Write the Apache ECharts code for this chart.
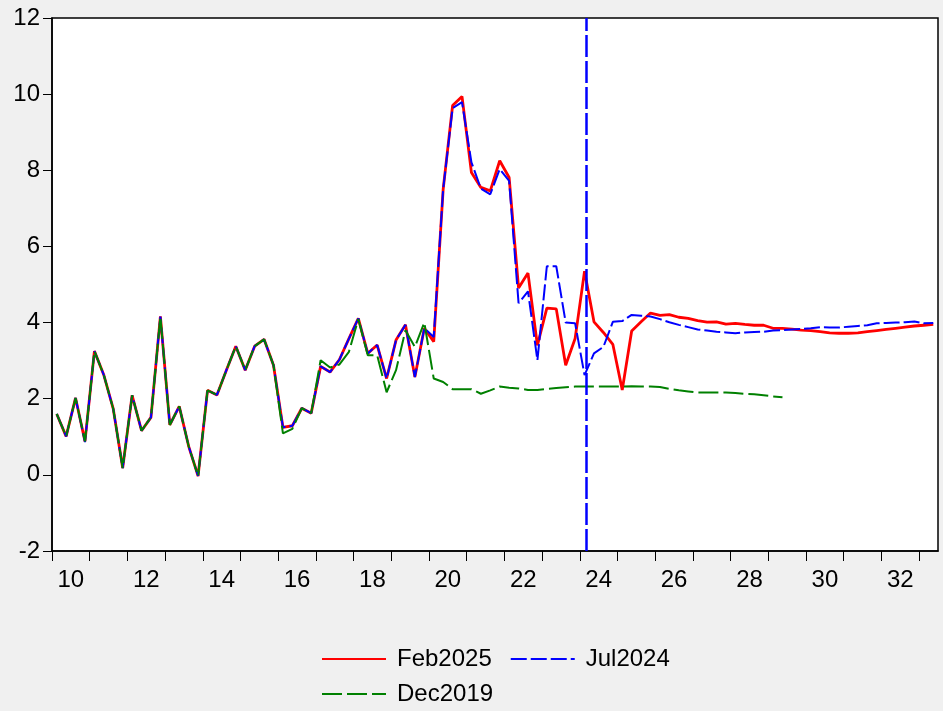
<!DOCTYPE html>
<html>
<head>
<meta charset="utf-8">
<script src="https://cdn.jsdelivr.net/npm/echarts@6/dist/echarts.min.js"></script>
<style>
html,body{margin:0;padding:0;background:#f0f0f0;}
#chart{width:943px;height:711px;}
</style>
</head>
<body>
<div id="chart"></div>
<script>
// Quarterly observations, 2010Q1 .. 2033Q2
const quarters = [];
for (let y = 2010; y <= 2033; y++) for (let q = 1; q <= 4; q++) { if (y === 2033 && q > 2) break; quarters.push(y + 'Q' + q); }

const feb2025 = [
  1.60, 1.01, 2.02, 0.88, 3.25, 2.62, 1.73, 0.18, 2.09, 1.16,
  1.51, 4.16, 1.31, 1.80, 0.75, -0.03, 2.22, 2.10, 2.75, 3.38,
  2.75, 3.38, 3.56, 2.88, 1.25, 1.29, 1.75, 1.62, 2.85, 2.70,
  3.03, 3.58, 4.11, 3.19, 3.41, 2.53, 3.54, 3.94, 2.57, 3.85,
  3.50, 7.50, 9.70, 9.94, 7.94, 7.55, 7.46, 8.25, 7.81, 4.91,
  5.30, 3.40, 4.38, 4.36, 2.88, 3.58, 5.35, 4.02, 3.74, 3.43,
  2.23, 3.78, 4.02, 4.25, 4.19, 4.21, 4.14, 4.11, 4.05, 4.01,
  4.02, 3.96, 3.98, 3.95, 3.93, 3.93, 3.85, 3.85, 3.83, 3.80,
  3.79, 3.76, 3.73, 3.72, 3.72, 3.73, 3.76, 3.79, 3.82, 3.85,
  3.88, 3.91, 3.93, 3.95
];
const jul2024 = [
  1.60, 1.01, 2.02, 0.86, 3.25, 2.62, 1.73, 0.18, 2.09, 1.16,
  1.51, 4.16, 1.31, 1.80, 0.75, -0.03, 2.22, 2.10, 2.75, 3.38,
  2.75, 3.38, 3.56, 2.88, 1.25, 1.29, 1.75, 1.62, 2.85, 2.70,
  3.03, 3.58, 4.11, 3.19, 3.41, 2.53, 3.54, 3.94, 2.57, 3.85,
  3.62, 7.50, 9.63, 9.79, 8.21, 7.52, 7.37, 8.03, 7.72, 4.51,
  4.82, 3.01, 5.48, 5.48, 4.00, 3.98, 2.62, 3.19, 3.36, 4.02,
  4.04, 4.20, 4.18, 4.16, 4.09, 4.01, 3.94, 3.88, 3.82, 3.79,
  3.76, 3.74, 3.72, 3.74, 3.75, 3.76, 3.79, 3.80, 3.82, 3.83,
  3.85, 3.88, 3.87, 3.87, 3.89, 3.91, 3.93, 3.98, 3.99, 4.00,
  4.01, 4.03, 3.98, 3.99
];
const dec2019 = [
  1.60, 1.01, 2.02, 0.88, 3.25, 2.62, 1.73, 0.18, 2.09, 1.16,
  1.51, 4.16, 1.31, 1.80, 0.75, -0.03, 2.22, 2.10, 2.75, 3.38,
  2.75, 3.38, 3.56, 2.88, 1.09, 1.21, 1.75, 1.62, 3.01, 2.82,
  2.90, 3.23, 4.09, 3.14, 3.14, 2.17, 2.75, 3.80, 3.36, 4.00,
  2.53, 2.44, 2.25, 2.25, 2.25, 2.13, 2.22, 2.32, 2.29, 2.27,
  2.23, 2.23, 2.26, 2.28, 2.30, 2.32, 2.32, 2.32, 2.32, 2.32,
  2.32, 2.33, 2.32, 2.32, 2.31, 2.26, 2.22, 2.19, 2.16, 2.16,
  2.16, 2.16, 2.15, 2.13, 2.12, 2.09, 2.06, 2.04
];
const seriesNames = ['Feb2025', 'Jul2024', 'Dec2019'];
const yTicks = [-2, 0, 2, 4, 6, 8, 10, 12];
const yearTicks = [];
for (let y = 2010; y <= 2033; y++) yearTicks.push(y);
const yearLabels = [];
for (let y = 2010; y <= 2032; y += 2) yearLabels.push(y + 0.5);
const vlineAt = 2024.17;

function qTime(label) {
  const y = parseInt(label.slice(0, 4), 10);
  const q = parseInt(label.slice(5), 10);
  return y + (q - 0.5) / 4;
}
function pairs(vals) {
  return vals.map((v, i) => [qTime(quarters[i]), v]);
}

const FONT = '"Liberation Sans", Arial, sans-serif';
const FS = 24;
const legendCommon = {
  orient: 'horizontal', padding: 0, itemWidth: 64, itemHeight: 14, itemGap: 18,
  itemStyle: {opacity: 0},
  textStyle: {fontSize: FS, fontFamily: FONT, color: '#000', padding: [0, 0, 0, 6]}
};
const chart = echarts.init(document.getElementById('chart'), null, {renderer: 'canvas'});
chart.setOption({
  backgroundColor: '#f0f0f0',
  animation: false,
  grid: {left: 52, right: 5, top: 18, bottom: 160, show: true, backgroundColor: '#ffffff', borderColor: '#000', borderWidth: 1.5},
  xAxis: {
    type: 'value', min: 2010, max: 2033.5,
    axisLine: {show: true, onZero: false, lineStyle: {color: '#000', width: 1.5}},
    axisTick: {show: true, customValues: yearTicks, length: 10, lineStyle: {color: '#000', width: 1}},
    axisLabel: {customValues: yearLabels, formatter: v => String(Math.floor(v) % 100), color: '#000', fontSize: FS, fontFamily: FONT, margin: 17},
    splitLine: {show: false}
  },
  yAxis: {
    type: 'value', min: yTicks[0], max: yTicks[yTicks.length - 1], interval: 2,
    axisLine: {show: true, lineStyle: {color: '#000', width: 1.5}},
    axisTick: {show: true, length: 9, lineStyle: {color: '#000', width: 1}},
    axisLabel: {color: '#000', fontSize: FS, fontFamily: FONT, margin: 12},
    splitLine: {show: false}
  },
  legend: [
    Object.assign({}, legendCommon, {data: [seriesNames[0], seriesNames[1]], left: 321, top: 647}),
    Object.assign({}, legendCommon, {data: [seriesNames[2]], left: 321, top: 682})
  ],
  series: [
    {name: seriesNames[0], type: 'line', data: pairs(feb2025), symbol: 'none', color: '#ff0000',
     lineStyle: {color: '#ff0000', width: 2.8, type: 'solid'}},
    {name: seriesNames[1], type: 'line', data: pairs(jul2024), symbol: 'none', color: '#0000ff',
     lineStyle: {color: '#0000ff', width: 2, type: [16, 4]},
     markLine: {silent: true, symbol: 'none', label: {show: false},
       lineStyle: {color: '#0000ff', width: 2.5, type: [22, 4]},
       data: [{xAxis: vlineAt}]}},
    {name: seriesNames[2], type: 'line', data: pairs(dec2019), symbol: 'none', color: '#008000',
     lineStyle: {color: '#008000', width: 2, type: [20, 5]}}
  ]
});
</script>
</body>
</html>
